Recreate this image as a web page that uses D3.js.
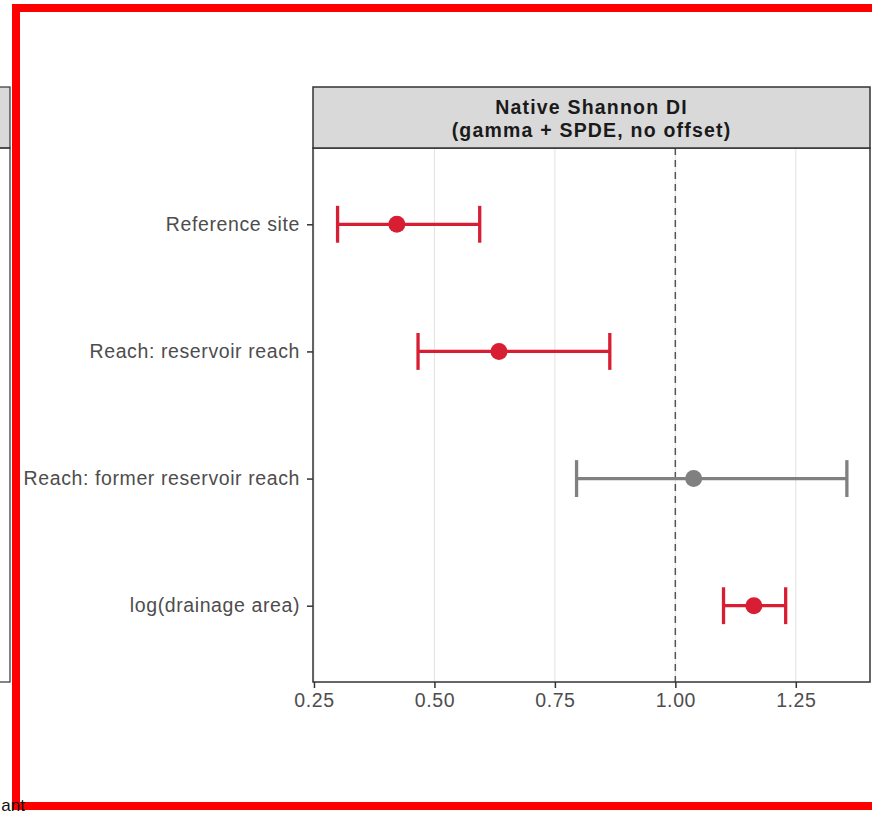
<!DOCTYPE html>
<html>
<head>
<meta charset="utf-8">
<script src="https://cdn.jsdelivr.net/npm/d3@7"></script>
<style>
    body { margin: 0; background: #fff; }
    text { font-family: "Liberation Sans", Arial, sans-serif; }
</style>
</head>
<body>
<svg width="872" height="815"></svg>
<script>
// Data
const terms = ["Reference site", "Reach: reservoir reach", "Reach: former reservoir reach", "log(drainage area)"];
const estimates = [0.422, 0.634, 1.038, 1.163];
const lower = [0.299, 0.466, 0.795, 1.100];
const upper = [0.594, 0.864, 1.356, 1.229];
const significant = [true, true, false, true];
const xTicks = [0.25, 0.50, 0.75, 1.00, 1.25];
const titleLines = ["Native Shannon DI", "(gamma + SPDE, no offset)"];

let svg = d3.select("svg"),
    width = +svg.attr("width"),
    height = +svg.attr("height");

// panel box
const panel = {left: 313, right: 870, top: 148, bottom: 682};
const stripTop = 87;

let rows = terms.map(function (t, i) {
    return {term: t, est: estimates[i], lo: lower[i], hi: upper[i], sig: significant[i]};
});

let x = d3.scaleLinear()
    .domain([0.248, 1.404])
    .range([panel.left, panel.right]);

let y = d3.scalePoint()
    .domain(terms)
    .range([panel.top, panel.bottom])
    .padding(0.6);

const step = y.step();

function pointColour(d) {
    return d.sig ? "#d81e32" : "#808080";
}

// leftover neighbour panel at the left edge
svg.append("rect")
    .attr("x", -20).attr("y", stripTop)
    .attr("width", 30).attr("height", panel.top - stripTop)
    .attr("fill", "#d9d9d9").attr("stroke", "#333").attr("stroke-width", 1.2);
svg.append("rect")
    .attr("x", -20).attr("y", panel.top)
    .attr("width", 30).attr("height", panel.bottom - panel.top)
    .attr("fill", "none").attr("stroke", "#333").attr("stroke-width", 1.2);

// grid lines
svg.append("g")
    .selectAll("line")
    .data(xTicks)
    .join("line")
    .attr("x1", function (d) { return x(d); })
    .attr("x2", function (d) { return x(d); })
    .attr("y1", panel.top)
    .attr("y2", panel.bottom)
    .attr("stroke", "#e2e2e2")
    .attr("stroke-width", 1);

// reference line at 1
svg.append("line")
    .attr("x1", x(1)).attr("x2", x(1))
    .attr("y1", panel.top).attr("y2", panel.bottom)
    .attr("stroke", "#555")
    .attr("stroke-width", 1.5)
    .attr("stroke-dasharray", "7,5");

// error bars
let bars = svg.append("g")
    .selectAll("g")
    .data(rows)
    .join("g")
    .attr("stroke", pointColour)
    .attr("stroke-width", 3.3);

bars.append("line")
    .attr("x1", function (d) { return x(d.lo); })
    .attr("x2", function (d) { return x(d.hi); })
    .attr("y1", function (d) { return y(d.term); })
    .attr("y2", function (d) { return y(d.term); });

bars.append("line")
    .attr("x1", function (d) { return x(d.lo); })
    .attr("x2", function (d) { return x(d.lo); })
    .attr("y1", function (d) { return y(d.term) - step * 0.145; })
    .attr("y2", function (d) { return y(d.term) + step * 0.145; });

bars.append("line")
    .attr("x1", function (d) { return x(d.hi); })
    .attr("x2", function (d) { return x(d.hi); })
    .attr("y1", function (d) { return y(d.term) - step * 0.145; })
    .attr("y2", function (d) { return y(d.term) + step * 0.145; });

// points
svg.append("g")
    .selectAll("circle")
    .data(rows)
    .join("circle")
    .attr("cx", function (d) { return x(d.est); })
    .attr("cy", function (d) { return y(d.term); })
    .attr("r", 8.5)
    .attr("fill", pointColour);

// panel border
svg.append("rect")
    .attr("x", panel.left).attr("y", panel.top)
    .attr("width", panel.right - panel.left)
    .attr("height", panel.bottom - panel.top)
    .attr("fill", "none")
    .attr("stroke", "#333")
    .attr("stroke-width", 1.5);

// strip with title
svg.append("rect")
    .attr("x", panel.left).attr("y", stripTop)
    .attr("width", panel.right - panel.left)
    .attr("height", panel.top - stripTop)
    .attr("fill", "#d9d9d9")
    .attr("stroke", "#333")
    .attr("stroke-width", 1.5);

svg.append("g")
    .selectAll("text")
    .data(titleLines)
    .join("text")
    .attr("x", (panel.left + panel.right) / 2)
    .attr("y", function (d, i) { return 114 + i * 23; })
    .attr("text-anchor", "middle")
    .attr("font-size", 19.5)
    .attr("font-weight", "bold")
    .attr("letter-spacing", 1.2)
    .attr("fill", "#1a1a1a")
    .text(function (d) { return d; });

// axes
let xAxis = svg.append("g")
    .attr("transform", "translate(0," + panel.bottom + ")")
    .call(d3.axisBottom(x).tickValues(xTicks).tickFormat(d3.format(".2f")).tickSize(6).tickPadding(5));

let yAxis = svg.append("g")
    .attr("transform", "translate(" + panel.left + ",0)")
    .call(d3.axisLeft(y).tickSize(6).tickPadding(7));

[xAxis, yAxis].forEach(function (a) {
    a.select(".domain").remove();
    a.selectAll(".tick line").attr("stroke", "#333").attr("stroke-width", 1.5);
    a.selectAll(".tick text")
        .attr("fill", "#4d4d4d")
        .attr("font-size", 19.5)
        .attr("letter-spacing", 0.6)
        .style("font-family", "'Liberation Sans', Arial, sans-serif");
});

// red frame
svg.append("rect")
    .attr("x", 16).attr("y", 8)
    .attr("width", 880).attr("height", 798)
    .attr("fill", "none")
    .attr("stroke", "#ff0000")
    .attr("stroke-width", 8);

// cut-off caption text at the bottom left
svg.append("text")
    .attr("x", 25)
    .attr("y", 811)
    .attr("text-anchor", "end")
    .attr("font-size", 17)
    .attr("fill", "#111")
    .text("ant");
</script>
</body>
</html>
